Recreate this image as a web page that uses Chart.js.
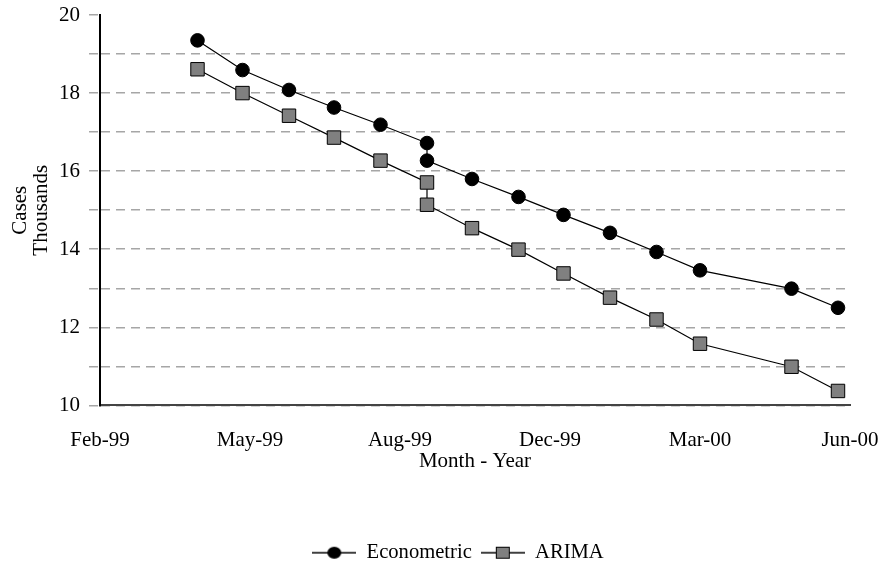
<!DOCTYPE html>
<html>
<head>
<meta charset="utf-8">
<script src="https://cdn.jsdelivr.net/npm/chart.js@4/dist/chart.umd.min.js"></script>
<style>
  html, body { margin: 0; padding: 0; background: #fff; }
  #wrap { width: 881px; height: 566px; }
</style>
</head>
<body>
<div id="wrap"><canvas id="chart"></canvas></div>
<script>
// ---- data ----
const DATES = ["1999-04-15","1999-05-15","1999-06-15","1999-07-15","1999-08-15","1999-09-15","1999-09-15",
  "1999-10-15","1999-11-15","1999-12-15","2000-01-15","2000-02-15","2000-03-15","2000-05-15","2000-06-15"];
const ECONOMETRIC = [19.35,18.59,18.08,17.63,17.19,16.72,16.27,15.80,15.34,14.88,14.42,13.93,13.46,12.99,12.50];
const ARIMA = [18.61,18.00,17.42,16.86,16.27,15.71,15.14,14.54,13.99,13.38,12.76,12.20,11.58,10.99,10.37];
const X_TICK_LABELS = ["Feb-99","May-99","Aug-99","Dec-99","Mar-00","Jun-00"];
const SERIES_NAMES = ["Econometric","ARIMA"];

const FONT = "'Liberation Serif', 'Times New Roman', serif";

// spreadsheet-style day serial, so the axis can step by 100 days
function serial(s){
  const [y,m,d] = s.split("-").map(Number);
  return (Date.UTC(y, m-1, d) - Date.UTC(1899, 11, 30)) / 86400000;
}
const pts = (vals) => vals.map((v,i) => ({ x: serial(DATES[i]), y: v }));

// legend icons: line with the marker in the middle
function legendIcon(kind){
  const c = document.createElement("canvas");
  c.width = 44; c.height = 16;
  const g = c.getContext("2d");
  g.strokeStyle = "#000"; g.lineWidth = 1.5;
  g.beginPath(); g.moveTo(0, 8); g.lineTo(44, 8); g.stroke();
  if (kind === "circle") {
    g.fillStyle = "#000";
    g.beginPath(); g.ellipse(22, 8, 7, 6, 0, 0, Math.PI*2); g.fill();
  } else {
    g.fillStyle = "#808080"; g.lineWidth = 1;
    g.fillRect(15.5, 2.5, 13, 11); g.strokeRect(15.5, 2.5, 13, 11);
  }
  return c;
}
const ICONS = [legendIcon("circle"), legendIcon("rect")];

const GRID = "#a6a6a6";

// the legend in the reference sits a little right of the canvas centre
const legendShift = {
  id: "legendShift",
  afterLayout(chart){ chart.legend.left += 6; chart.legend.right += 6; }
};

new Chart(document.getElementById("chart"), {
  type: "line",
  plugins: [legendShift],
  data: {
    datasets: [{
      label: SERIES_NAMES[0],
      data: pts(ECONOMETRIC),
      borderColor: "#000",
      borderWidth: 1.2,
      pointStyle: "circle",
      pointRadius: 6.8,
      pointBackgroundColor: "#000",
      pointBorderColor: "#000",
      pointBorderWidth: 1
    },{
      label: SERIES_NAMES[1],
      data: pts(ARIMA),
      borderColor: "#000",
      borderWidth: 1.2,
      pointStyle: "rect",
      pointRadius: 9.5,
      pointBackgroundColor: "#808080",
      pointBorderColor: "#000",
      pointBorderWidth: 1
    }]
  },
  options: {
    responsive: true,
    maintainAspectRatio: false,
    animation: false,
    layout: { padding: { left: 54, right: 31, top: 15, bottom: -7 } },
    plugins: {
      tooltip: { enabled: false },
      legend: {
        position: "bottom",
        labels: {
          color: "#000",
          font: { family: FONT, size: 20.6 },
          usePointStyle: true,
          pointStyleWidth: 44,
          padding: 9,
          generateLabels(chart){
            const items = Chart.defaults.plugins.legend.labels.generateLabels(chart);
            items.forEach((it, i) => { it.pointStyle = ICONS[i]; });
            return items;
          }
        }
      }
    },
    scales: {
      x: {
        type: "linear",
        min: 36200, max: 36700,
        grid: { display: false, drawTicks: false },
        border: { display: true, color: "#444", width: 2 },
        ticks: {
          stepSize: 100,
          color: "#000",
          padding: 22,
          font: { family: FONT, size: 21 },
          maxRotation: 0,
          callback: (v, i) => X_TICK_LABELS[i]
        },
        title: {
          display: true,
          text: "Month - Year",
          color: "#000",
          font: { family: FONT, size: 21 },
          padding: { top: 0, bottom: 59 }
        },
        afterFit(s){ s.height = 128; s.paddingLeft = 0; s.paddingRight = 0; }
      },
      y: {
        min: 10, max: 20,
        border: { display: true, color: "#000", width: 2, dash: [9, 6] },
        grid: {
          color: (c) => c.tick && c.tick.value === 20 ? "rgba(0,0,0,0)" : GRID,
          tickColor: GRID,
          lineWidth: 1.5,
          tickWidth: 1.5,
          tickBorderDash: [9, 6],
          tickLength: 11
        },
        ticks: {
          stepSize: 1,
          color: "#000",
          padding: 9,
          font: { family: FONT, size: 21 },
          callback: (v) => v % 2 === 0 ? String(v) : ""
        },
        title: {
          display: true,
          text: ["Cases", "Thousands"],
          color: "#000",
          font: { family: FONT, size: 21, lineHeight: 1.0 },
          padding: { top: -44, bottom: 0 }
        },
        afterFit(s){ s.width = 46; s.paddingTop = 0; s.paddingBottom = 0; }
      }
    }
  }
});
</script>
</body>
</html>
